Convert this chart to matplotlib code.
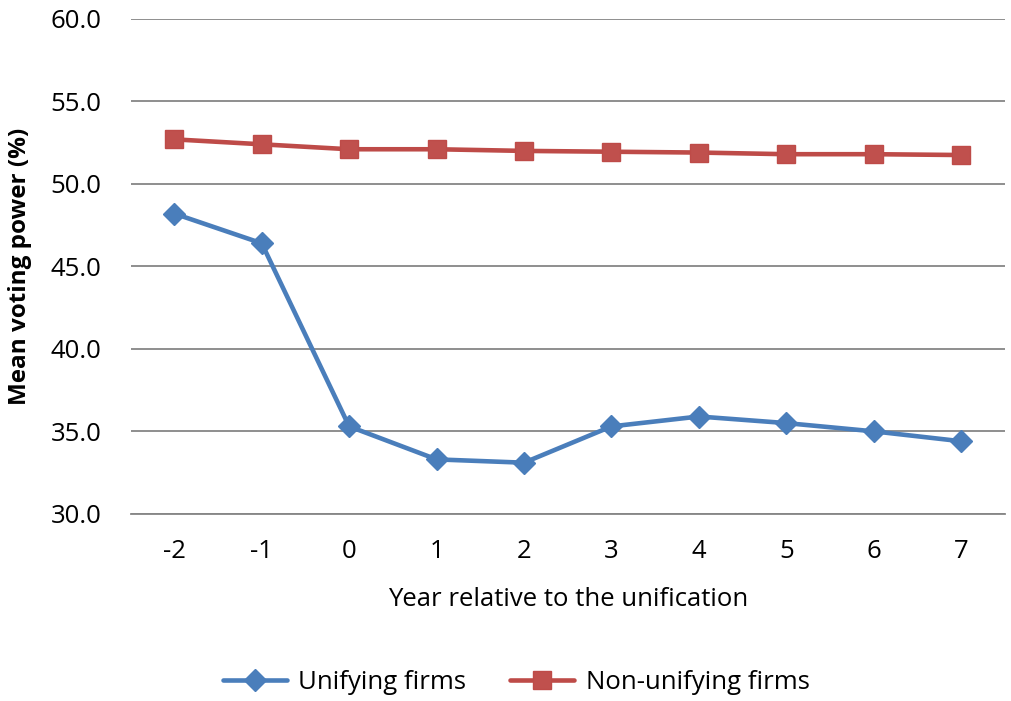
import matplotlib
matplotlib.use("Agg")
import matplotlib.pyplot as plt

plt.rcParams['font.family'] = ['Open Sans', 'DejaVu Sans']

years = ["-2", "-1", "0", "1", "2", "3", "4", "5", "6", "7"]
unifying = [48.2, 46.4, 35.3, 33.3, 33.1, 35.3, 35.9, 35.5, 35.0, 34.4]
non_unifying = [52.7, 52.4, 52.1, 52.1, 52.0, 51.95, 51.9, 51.8, 51.8, 51.75]
yticks = [30.0, 35.0, 40.0, 45.0, 50.0, 55.0, 60.0]

FS = 18.5

fig = plt.figure(figsize=(10.12, 7.01), dpi=100)
ax = fig.add_axes([0.129, 0.267, 0.864, 0.706])
x = list(range(len(years)))

ax.plot(x, unifying, color='#4a7ebb', lw=3.3, marker='D', ms=11,
        markerfacecolor='#4a7ebb', markeredgecolor='#4a7ebb', label='Unifying firms',
        solid_joinstyle='round', solid_capstyle='round')
ax.plot(x, non_unifying, color='#be4b48', lw=3.3, marker='s', ms=13,
        markerfacecolor='#c0504d', markeredgecolor='#be4b48', label='Non-unifying firms',
        solid_joinstyle='round', solid_capstyle='round')

ax.set_xlim(-0.5, len(years) - 0.5)
ax.set_ylim(30, 60)
ax.set_yticks(yticks)
ax.set_yticklabels([f"{v:.1f}" for v in yticks], fontsize=FS)
ax.set_xticks(x)
ax.set_xticklabels(years, fontsize=FS)
ax.tick_params(length=0)
ax.tick_params(axis='x', pad=18)
ax.tick_params(axis='y', pad=21)

ax.grid(axis='y', color='#868686', lw=1.3)
ax.set_axisbelow(True)
for s in ['top', 'right', 'left']:
    ax.spines[s].set_visible(False)
ax.spines['bottom'].set_color('#868686')
ax.spines['bottom'].set_linewidth(1.3)

ax.set_xlabel('Year relative to the unification', fontsize=FS, labelpad=17)
ax.set_ylabel('Mean voting power (%)', fontsize=17.5, fontweight='bold', labelpad=13)

fig.legend(loc='center', bbox_to_anchor=(0.51, 0.027), ncol=2, frameon=False,
           fontsize=FS, handlelength=2.5, handletextpad=0.45, columnspacing=1.7)

fig.savefig('out.png', dpi=100)
